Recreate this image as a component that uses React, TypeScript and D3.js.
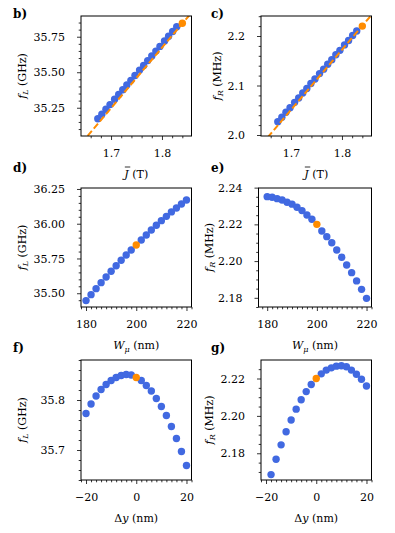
import { useEffect, useRef } from 'react';
import * as d3 from 'd3';

const BLUE = '#4169e1';
const ORANGE = '#ff8c00';
const FONT = '"DejaVu Serif", serif';

// b) and c): field sweep
const jField = [1.674, 1.682, 1.690, 1.698, 1.707, 1.715, 1.723, 1.731, 1.739, 1.747,
  1.756, 1.764, 1.772, 1.780, 1.788, 1.796, 1.805, 1.813, 1.821, 1.829];
const fLField = [35.172, 35.205, 35.239, 35.272, 35.310, 35.343, 35.377, 35.410, 35.443, 35.477,
  35.515, 35.548, 35.582, 35.615, 35.649, 35.682, 35.720, 35.753, 35.787, 35.820];
const fRField = [2.027, 2.036, 2.046, 2.055, 2.066, 2.075, 2.085, 2.094, 2.104, 2.113,
  2.124, 2.133, 2.143, 2.152, 2.162, 2.171, 2.182, 2.191, 2.201, 2.210];
const jRef = 1.84;
const fLRef = 35.845;
const fRRef = 2.22;
const fitJ = [1.63, 1.87];
const fitL = [34.95, 35.97];
const fitR = [1.966, 2.257];

// d) and e): width sweep
const widths = [180, 182, 184, 186, 188, 190, 192, 194, 196, 198, 200,
  202, 204, 206, 208, 210, 212, 214, 216, 218, 220];
const fLWidth = [35.447, 35.490, 35.533, 35.576, 35.617, 35.658, 35.698, 35.737, 35.775, 35.811, 35.847,
  35.883, 35.919, 35.955, 35.989, 36.022, 36.053, 36.085, 36.113, 36.142, 36.171];
const fRWidth = [2.2351, 2.2348, 2.2340, 2.2333, 2.2320, 2.2310, 2.2293, 2.2275, 2.2251, 2.2228, 2.2200,
  2.2164, 2.2133, 2.2100, 2.2060, 2.2021, 2.1979, 2.1937, 2.1892, 2.1846, 2.1797];

// f) and g): position sweep
const shiftsL = [-20, -18, -16, -14, -12, -10, -8, -6, -4, -2, 0, 2, 4, 6, 8, 10, 12, 14, 16, 18, 20];
const fLShift = [35.773, 35.792, 35.808, 35.821, 35.831, 35.839, 35.845, 35.849, 35.851, 35.850, 35.845,
  35.839, 35.829, 35.818, 35.803, 35.787, 35.769, 35.747, 35.723, 35.697, 35.669];
const shiftsR = [-18, -16, -14, -12, -10, -8, -6, -4, -2, 0, 2, 4, 6, 8, 10, 12, 14, 16, 18, 20];
const fRShift = [2.1686, 2.1768, 2.1845, 2.1915, 2.1978, 2.2036, 2.2086, 2.2130, 2.2168, 2.2200,
  2.2225, 2.2245, 2.2257, 2.2266, 2.2268, 2.2263, 2.2245, 2.2223, 2.2196, 2.2160];

const fmt = (n: number) => (v: number) => (v < 0 ? '\u2212' : '') + Math.abs(v).toFixed(n);

const panels = [
  { tag: 'b)', box: [81, 16, 191.5, 136], xd: [1.641, 1.858], yd: [35.051, 35.896],
    xt: [1.7, 1.8], xm: 0.02, yt: [35.25, 35.5, 35.75], ym: 0.05, xf: fmt(1), yf: fmt(2),
    xl: 'J', yl: 'L', ylx: 25.5, tx: 13, ty: 18,
    xs: jField, ys: fLField, ref: [jRef, fLRef], fit: [fitJ, fitL] },
  { tag: 'c)', box: [261, 16, 371.5, 136], xd: [1.641, 1.858], yd: [1.998, 2.2404],
    xt: [1.7, 1.8], xm: 0.02, yt: [2.0, 2.1, 2.2], ym: 0.02, xf: fmt(1), yf: fmt(1),
    xl: 'J', yl: 'R', ylx: 220.5, tx: 211, ty: 18,
    xs: jField, ys: fRField, ref: [jRef, fRRef], fit: [fitJ, fitR] },
  { tag: 'd)', box: [81, 188, 191.5, 307], xd: [178, 222], yd: [35.401, 36.257],
    xt: [180, 200, 220], xm: 2, yt: [35.5, 35.75, 36.0, 36.25], ym: 0.05, xf: fmt(0), yf: fmt(2),
    xl: 'W', yl: 'L', ylx: 25.5, tx: 13, ty: 171.5,
    xs: widths, ys: fLWidth, ref: [widths[10], fLWidth[10]], fit: null },
  { tag: 'e)', box: [258.5, 188, 371.5, 307], xd: [176.5, 222], yd: [2.175, 2.2398],
    xt: [180, 200, 220], xm: 2, yt: [2.18, 2.2, 2.22, 2.24], ym: 0.005, xf: fmt(0), yf: fmt(2),
    xl: 'W', yl: 'R', ylx: 212.5, tx: 211, ty: 171.5,
    xs: widths, ys: fRWidth, ref: [widths[10], fRWidth[10]], fit: null },
  { tag: 'f)', box: [81, 360, 191.5, 480], xd: [-22, 22], yd: [35.64, 35.88],
    xt: [-20, 0, 20], xm: 2, yt: [35.7, 35.8], ym: 0.02, xf: fmt(0), yf: fmt(1),
    xl: 'dy', yl: 'L', ylx: 25.5, tx: 13, ty: 352,
    xs: shiftsL, ys: fLShift, ref: [shiftsL[10], fLShift[10]], fit: null },
  { tag: 'g)', box: [261, 360, 371.5, 480], xd: [-22, 22], yd: [2.1657, 2.2299],
    xt: [-20, 0, 20], xm: 2, yt: [2.18, 2.2, 2.22], ym: 0.005, xf: fmt(0), yf: fmt(2),
    xl: 'dy', yl: 'R', ylx: 212.5, tx: 211, ty: 352,
    xs: shiftsR, ys: fRShift, ref: [shiftsR[9], fRShift[9]], fit: null },
];

function minors(domain: number[], step: number, majors: number[]) {
  const out: number[] = [];
  const k0 = Math.ceil(domain[0] / step - 1e-6);
  const k1 = Math.floor(domain[1] / step + 1e-6);
  for (let k = k0; k <= k1; k++) {
    const v = k * step;
    if (!majors.some(m => Math.abs(m - v) < step * 0.01)) out.push(v);
  }
  return out;
}

function drawPanel(svg: any, p: any) {
  const [x0, y0, x1, y1] = p.box;
  const x = d3.scaleLinear().domain(p.xd).range([x0, x1]);
  const y = d3.scaleLinear().domain(p.yd).range([y1, y0]);
  const id = 'clip' + p.tag[0];
  svg.append('clipPath').attr('id', id)
    .append('rect').attr('x', x0).attr('y', y0).attr('width', x1 - x0).attr('height', y1 - y0);

  const plot = svg.append('g').attr('clip-path', `url(#${id})`);
  const pts = d3.zip(p.xs, p.ys).filter(d => !(d[0] === p.ref[0] && d[1] === p.ref[1]));
  plot.selectAll('circle.pt').data(pts).enter().append('circle')
    .attr('cx', (d: number[]) => x(d[0])).attr('cy', (d: number[]) => y(d[1]))
    .attr('r', 3.7).attr('fill', BLUE);

  if (p.fit) {
    const line = d3.line<number[]>().x(d => x(d[0])).y(d => y(d[1]));
    plot.append('path').datum(d3.zip(p.fit[0], p.fit[1])).attr('d', line)
      .attr('fill', 'none').attr('stroke', ORANGE).attr('stroke-width', 2)
      .attr('stroke-dasharray', '6.5 3');
  }
  plot.append('circle').attr('cx', x(p.ref[0])).attr('cy', y(p.ref[1]))
    .attr('r', 3.7).attr('fill', ORANGE);

  // axes
  const styleAxis = (g: any) => {
    g.select('.domain').remove();
    g.selectAll('line').attr('stroke', '#000').attr('stroke-width', 0.8);
    g.selectAll('text').attr('font-family', FONT).attr('font-size', 11).attr('fill', '#000');
  };
  svg.append('g').attr('transform', `translate(0,${y1})`)
    .call(d3.axisBottom(x).tickValues(p.xt).tickSize(4).tickPadding(9).tickFormat(p.xf))
    .call(styleAxis);
  svg.append('g').attr('transform', `translate(0,${y1})`)
    .call(d3.axisBottom(x).tickValues(minors(p.xd, p.xm, p.xt)).tickSize(2.3).tickFormat(() => ''))
    .call(styleAxis);
  svg.append('g').attr('transform', `translate(${x0},0)`)
    .call(d3.axisLeft(y).tickValues(p.yt).tickSize(4).tickPadding(12).tickFormat(p.yf))
    .call(styleAxis);
  svg.append('g').attr('transform', `translate(${x0},0)`)
    .call(d3.axisLeft(y).tickValues(minors(p.yd, p.ym, p.yt)).tickSize(2.3).tickFormat(() => ''))
    .call(styleAxis);

  svg.append('rect').attr('x', x0).attr('y', y0).attr('width', x1 - x0).attr('height', y1 - y0)
    .attr('fill', 'none').attr('stroke', '#000').attr('stroke-width', 1);

  // x label
  const cx = (x0 + x1) / 2;
  const xl = svg.append('text').attr('x', cx).attr('y', y1 + 42)
    .attr('text-anchor', 'middle').attr('font-family', FONT).attr('font-size', 11);
  if (p.xl === 'J') {
    xl.append('tspan').attr('font-style', 'italic').text('J');
    xl.append('tspan').text(' (T)');
    const box = (xl.node() as SVGTextElement).getExtentOfChar(0);
    svg.append('line').attr('x1', box.x + 0.5).attr('x2', box.x + box.width + 1.5)
      .attr('y1', y1 + 42 - 11).attr('y2', y1 + 42 - 11)
      .attr('stroke', '#000').attr('stroke-width', 0.8);
  } else if (p.xl === 'W') {
    xl.append('tspan').attr('font-style', 'italic').text('W');
    xl.append('tspan').attr('font-style', 'italic').attr('font-size', 8).attr('dy', 2.5).text('\u03bc');
    xl.append('tspan').attr('dy', -2.5).text(' (nm)');
  } else {
    xl.append('tspan').text('\u0394');
    xl.append('tspan').attr('font-style', 'italic').text('y');
    xl.append('tspan').text(' (nm)');
  }

  // y label
  const yl = svg.append('text')
    .attr('transform', `translate(${p.ylx},${(y0 + y1) / 2}) rotate(-90)`)
    .attr('text-anchor', 'middle').attr('font-family', FONT).attr('font-size', 11);
  yl.append('tspan').attr('font-style', 'italic').text('f');
  yl.append('tspan').attr('font-style', 'italic').attr('font-size', 8).attr('dy', 2.5).text(p.yl);
  yl.append('tspan').attr('dy', -2.5).text(p.yl === 'L' ? ' (GHz)' : ' (MHz)');

  // panel tag
  svg.append('text').attr('x', p.tx).attr('y', p.ty)
    .attr('font-family', FONT).attr('font-weight', 'bold').attr('font-size', 12).text(p.tag);
}

export default function App() {
  const ref = useRef<SVGSVGElement>(null);
  useEffect(() => {
    const svg = d3.select(ref.current);
    svg.selectAll('*').remove();
    svg.append('rect').attr('width', 395).attr('height', 533).attr('fill', '#fff');
    panels.forEach(p => drawPanel(svg, p));
  }, []);
  return (
    <div style={{ position: 'absolute', left: 0, top: 0 }}>
      <svg ref={ref} width={395} height={533} />
    </div>
  );
}
